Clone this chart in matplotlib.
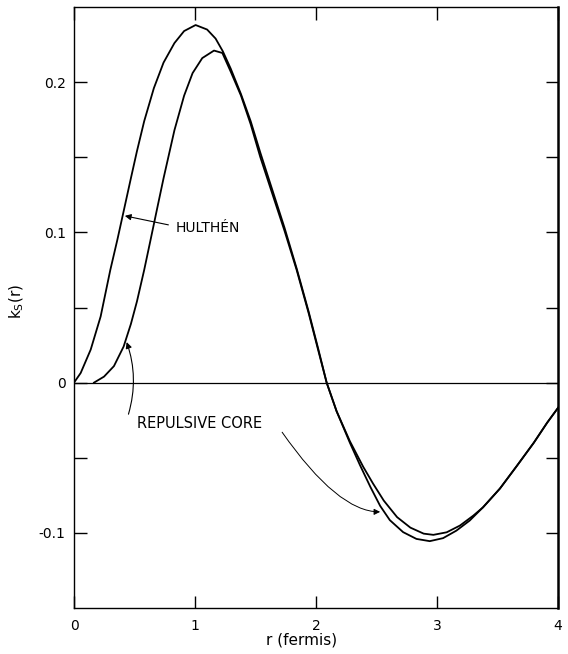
import numpy as np
import matplotlib
matplotlib.use("Agg")
import matplotlib.pyplot as plt

plt.rcParams["font.family"] = ["DejaVu Sans"]
plt.rcParams["mathtext.default"] = "regular"

# curves (r in fermis, k_s(r))
hulthen_r = [0.0, 0.055, 0.138, 0.22, 0.30, 0.358, 0.41, 0.47, 0.52, 0.58, 0.66, 0.74,
             0.83, 0.91, 1.005, 1.10, 1.17, 1.23, 1.295, 1.38, 1.46, 1.54, 1.64, 1.74,
             1.84, 1.94, 2.02, 2.088, 2.17, 2.28, 2.39, 2.47, 2.56, 2.67, 2.78, 2.89,
             2.97, 3.08, 3.19, 3.30, 3.38, 3.52, 3.66, 3.80, 3.91, 4.0]
hulthen_k = [0.0, 0.0064, 0.022, 0.044, 0.075, 0.095, 0.114, 0.136, 0.154, 0.174, 0.196, 0.213,
             0.226, 0.234, 0.238, 0.235, 0.229, 0.2205, 0.209, 0.192, 0.174, 0.153, 0.128, 0.103,
             0.076, 0.047, 0.022, 0.0, -0.019, -0.039, -0.056, -0.067, -0.0785, -0.0895, -0.0965, -0.1005,
             -0.1013, -0.0996, -0.0951, -0.0885, -0.083, -0.0705, -0.0554, -0.040, -0.0267, -0.0168]

core_r = [0.165, 0.248, 0.33, 0.41, 0.47, 0.52, 0.58, 0.63, 0.69, 0.74, 0.83, 0.91,
          0.98, 1.06, 1.157, 1.226, 1.295, 1.38, 1.46, 1.54, 1.65, 1.74, 1.84, 1.94,
          2.02, 2.088, 2.17, 2.28, 2.364, 2.45, 2.53, 2.61, 2.72, 2.83, 2.94, 3.05,
          3.16, 3.27, 3.38, 3.52, 3.66, 3.80, 3.91, 4.0]
core_k = [0.0, 0.004, 0.011, 0.024, 0.039, 0.054, 0.075, 0.094, 0.117, 0.136, 0.168, 0.191,
          0.206, 0.216, 0.221, 0.2194, 0.207, 0.191, 0.172, 0.150, 0.123, 0.101, 0.075, 0.046,
          0.021, 0.0, -0.019, -0.040, -0.055, -0.0695, -0.082, -0.0915, -0.0995, -0.104, -0.1055, -0.1035,
          -0.0985, -0.0918, -0.083, -0.0705, -0.0554, -0.040, -0.0267, -0.0168]

x_ticks = [0, 1, 2, 3, 4]
x_ticklabels = ["0", "1", "2", "3", "4"]
y_ticks = [-0.1, -0.05, 0.0, 0.05, 0.1, 0.15, 0.2]
y_ticklabels = ["-0.1", "", "0", "", "0.1", "", "0.2"]

fig = plt.figure(figsize=(5.68, 6.54), dpi=100)
ax = fig.add_axes([0.1303, 0.0703, 0.8521, 0.919])

ax.plot(hulthen_r, hulthen_k, color="black", lw=1.3, solid_joinstyle="round")
ax.plot(core_r, core_k, color="black", lw=1.3, solid_joinstyle="round")
ax.axhline(0, color="black", lw=0.9)

ax.set_xlim(0, 4)
ax.set_ylim(-0.15, 0.25)
ax.set_xticks(x_ticks)
ax.set_xticklabels(x_ticklabels)
ax.set_yticks(y_ticks)
ax.set_yticklabels(y_ticklabels)
ax.tick_params(axis="both", direction="in", length=9, width=1.0, labelsize=10,
               top=True, right=True, color="black")
ax.tick_params(axis="x", pad=8)
ax.tick_params(axis="y", pad=6)
for side in ["left", "bottom", "top"]:
    ax.spines[side].set_linewidth(1.0)
ax.spines["right"].set_linewidth(1.8)

ax.set_xlabel("r (fermis)", fontsize=11)
ax.xaxis.set_label_coords(0.47, -0.040)
ax.set_ylabel("k$_S$(r)", fontsize=11)
ax.yaxis.set_label_coords(-0.10, 0.51)

# labels and arrows
ax.text(0.84, 0.103, "HULTHÉN", fontsize=10, ha="left", va="center")
ax.annotate("", xy=(0.42, 0.111), xytext=(0.78, 0.105),
            arrowprops=dict(arrowstyle="-|>", color="black", lw=0.8, mutation_scale=9,
                            shrinkA=0, shrinkB=0))

ax.text(0.52, -0.027, "REPULSIVE CORE", fontsize=10.5, ha="left", va="center")
ax.annotate("", xy=(0.435, 0.027), xytext=(0.45, -0.021),
            arrowprops=dict(arrowstyle="-|>", color="black", lw=0.8, mutation_scale=9,
                            shrinkA=0, shrinkB=0, connectionstyle="arc3,rad=0.16"))
ax.annotate("", xy=(2.53, -0.086), xytext=(1.72, -0.033),
            arrowprops=dict(arrowstyle="-|>", color="black", lw=0.7, mutation_scale=9,
                            shrinkA=0, shrinkB=0,
                            connectionstyle="angle3,angleA=-55,angleB=0"))

fig.savefig("out.png", dpi=100)
